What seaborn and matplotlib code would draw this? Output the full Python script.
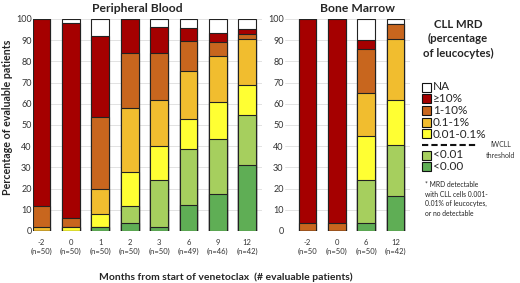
import matplotlib
matplotlib.use("Agg")
import matplotlib.pyplot as plt
from matplotlib.patches import Rectangle
from matplotlib.lines import Line2D
import seaborn as sns
import pandas as pd

# MRD categories, bottom to top of each stack
levels = ["<0.00", "<0.01", "0.01-0.1%", "0.1-1%", "1-10%", "\u226510%", "NA"]
colors = ["#5FAE55", "#A6CF5E", "#FFFF33", "#F1BD2F", "#C8661E", "#A50000", "#FFFFFF"]

pb_labels = ["-2\n(n=50)", "0\n(n=50)", "1\n(n=50)", "2\n(n=50)", "3\n(n=50)",
             "6\n(n=49)", "9\n(n=46)", "12\n(n=42)"]
pb_dg = [0, 0, 2, 4, 2, 12.2, 17.4, 31.0]
pb_lg = [0, 0, 0, 8, 22, 26.5, 26.1, 23.8]
pb_ye = [0, 2, 6, 16, 16, 14.3, 17.4, 14.3]
pb_go = [2, 0, 12, 30, 22, 22.4, 21.7, 21.4]
pb_or = [10, 4, 34, 26, 22, 14.3, 6.5, 2.4]
pb_re = [88, 92, 38, 16, 12, 6.1, 4.3, 2.4]
pb_na = [0, 2, 8, 0, 4, 4.1, 6.5, 4.8]

bm_labels = ["-2\n(n=50", "0\n(n=50)", "6\n(n=50)", "12\n(n=42)"]
bm_dg = [0, 0, 4, 16.7]
bm_lg = [0, 0, 20, 23.8]
bm_ye = [0, 0, 21, 21.4]
bm_go = [0, 0, 20, 28.6]
bm_or = [4, 4, 21, 7.1]
bm_re = [96, 96, 4, 0]
bm_na = [0, 0, 10, 2.4]

sns.set_style("white")
plt.rcParams["font.family"] = ["Lato", "DejaVu Sans"]

W, H = 520, 283
fig = plt.figure(figsize=(W / 100, H / 100), dpi=100)


def stacked(ax, labels, series):
    df = pd.DataFrame({"label": labels})
    cum = [0.0] * len(labels)
    tops = []
    for s in series:
        cum = [c + v for c, v in zip(cum, s)]
        tops.append(list(cum))
    # draw tallest layer first, shorter layers over it
    for top, col in reversed(list(zip(tops, colors))):
        df["top"] = top
        sns.barplot(data=df, x="label", y="top", order=labels, color=col,
                    saturation=1, width=0.6, edgecolor="#222222", linewidth=0.8,
                    ax=ax)
    ax.set_ylim(0, 100)
    ax.set_yticks(range(0, 101, 10))
    ax.grid(axis="y", color="#DDDDDD", linewidth=0.6)
    ax.set_axisbelow(True)
    ax.set_xlabel("")
    ax.set_ylabel("")
    sns.despine(ax=ax, left=True, bottom=True)
    ax.tick_params(axis="y", labelsize=6.5, pad=1, length=0, labelcolor="#333333")
    ax.tick_params(axis="x", labelsize=5.5, pad=6, length=0, labelcolor="#333333")


bot = 1 - 231 / H
hgt = (231 - 19) / H
ax1 = fig.add_axes([33 / W, bot, 229 / W, hgt])
stacked(ax1, pb_labels, [pb_dg, pb_lg, pb_ye, pb_go, pb_or, pb_re, pb_na])
ax1.set_xlim(-0.29, 7.5)

ax2 = fig.add_axes([285 / W, bot, 125 / W, hgt])
stacked(ax2, bm_labels, [bm_dg, bm_lg, bm_ye, bm_go, bm_or, bm_re, bm_na])
ax2.set_xlim(-0.77, 3.5)

fig.text(137 / W, 1 - 8 / H, "Peripheral Blood", ha="center", va="center",
         fontsize=8.7, fontweight="bold")
fig.text(357 / W, 1 - 8 / H, "Bone Marrow", ha="center", va="center",
         fontsize=8.7, fontweight="bold")
fig.text(8 / W, 1 - 117 / H, "Percentage of evaluable patients", rotation=90,
         ha="center", va="center", fontsize=7.7, fontweight="bold")
fig.text(226 / W, 1 - 277 / H, "Months from start of venetoclax  (# evaluable patients)",
         ha="center", va="center", fontsize=7.5, fontweight="bold")

# legend
fig.text(458 / W, 1 - 39 / H, "CLL MRD\n(percentage\nof leucocytes)", ha="center",
         va="center", fontsize=8.2, fontweight="bold", linespacing=1.35)
leg_y = [87, 98.5, 110, 122, 134, 155, 166]
leg_items = list(zip(levels, colors))[::-1]
for (name, col), yy in zip(leg_items, leg_y):
    fig.add_artist(Rectangle((422 / W, 1 - (yy + 4.5) / H), 9 / W, 9 / H,
                             transform=fig.transFigure, facecolor=col,
                             edgecolor="#111111", linewidth=0.8))
    fig.text(433 / W, 1 - yy / H, name, ha="left", va="center", fontsize=8.5)
fig.add_artist(Line2D([422 / W, 478 / W], [1 - 145 / H, 1 - 145 / H],
                      transform=fig.transFigure, color="#111111", linewidth=1.5,
                      linestyle=(0, (3, 1.5))))
fig.text(501 / W, 1 - 150 / H, "IWCLL\nthreshold", ha="center", va="center",
         fontsize=5, color="#333333", linespacing=1.6)
fig.text(425 / W, 1 - 181 / H,
         "* MRD detectable\nwith CLL cells 0.001-\n0.01% of leucocytes,\nor no detectable",
         ha="left", va="top", fontsize=4.9, color="#222222", linespacing=1.45)

fig.savefig("out.png", dpi=100)
